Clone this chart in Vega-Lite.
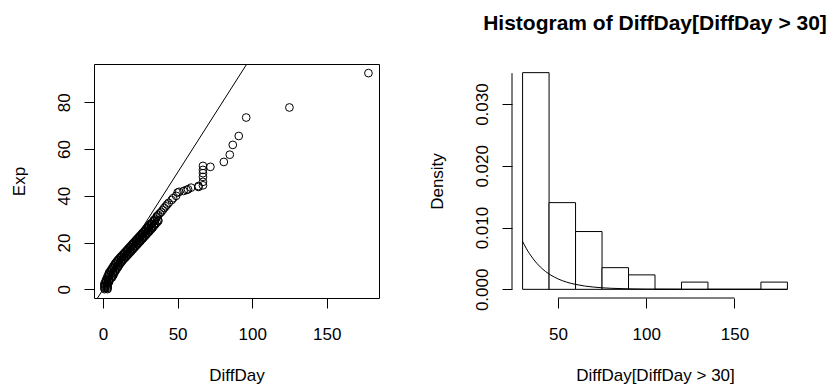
{
  "$schema": "https://vega.github.io/schema/vega-lite/v6.json",
  "background": "white",
  "padding": {"left": 10, "top": 13, "right": 0, "bottom": 0},
  "config": {
    "font": "Liberation Sans",
    "view": {"stroke": null},
    "axis": {
      "labelFont": "Liberation Sans", "titleFont": "Liberation Sans",
      "labelFontSize": 17, "titleFontSize": 17,
      "labelColor": "black", "titleColor": "black",
      "tickColor": "black", "tickSize": 10, "tickWidth": 1,
      "grid": false, "domain": false,
      "labelFontWeight": "normal", "titleFontWeight": "normal",
      "labelOverlap": false, "labelFlush": false
    }
  },
  "bounds": "flush",
  "spacing": 133,
  "hconcat": [
    {
      "width": 285,
      "height": 234,
      "view": {"stroke": "black", "strokeWidth": 1},
      "layer": [
        {
          "data": {"values": [
            {"DiffDay": 1, "Exp": 0.1}, {"DiffDay": 1, "Exp": 0.6}, {"DiffDay": 1, "Exp": 1.1}, {"DiffDay": 1, "Exp": 1.6}, {"DiffDay": 1, "Exp": 2.1}, {"DiffDay": 1, "Exp": 2.6},
            {"DiffDay": 2, "Exp": 3.1}, {"DiffDay": 2, "Exp": 3.6}, {"DiffDay": 2, "Exp": 4.1},
            {"DiffDay": 3, "Exp": 4.6}, {"DiffDay": 3, "Exp": 5.1}, {"DiffDay": 3, "Exp": 5.6},
            {"DiffDay": 4, "Exp": 6.1}, {"DiffDay": 4, "Exp": 6.6}, {"DiffDay": 4, "Exp": 7.1},
            {"DiffDay": 5, "Exp": 7.5}, {"DiffDay": 5, "Exp": 8.0},
            {"DiffDay": 6, "Exp": 8.5}, {"DiffDay": 6, "Exp": 9.0},
            {"DiffDay": 7, "Exp": 9.5}, {"DiffDay": 7, "Exp": 10.0},
            {"DiffDay": 8, "Exp": 10.5}, {"DiffDay": 8, "Exp": 11.0},
            {"DiffDay": 9, "Exp": 11.4}, {"DiffDay": 9, "Exp": 11.8},
            {"DiffDay": 10, "Exp": 12.2}, {"DiffDay": 10, "Exp": 12.6},
            {"DiffDay": 11, "Exp": 13.0}, {"DiffDay": 11, "Exp": 13.3},
            {"DiffDay": 12, "Exp": 13.6}, {"DiffDay": 12, "Exp": 14.0},
            {"DiffDay": 13, "Exp": 14.3}, {"DiffDay": 13, "Exp": 14.7},
            {"DiffDay": 14, "Exp": 15.0}, {"DiffDay": 14, "Exp": 15.4},
            {"DiffDay": 15, "Exp": 15.7}, {"DiffDay": 15, "Exp": 16.1},
            {"DiffDay": 16, "Exp": 16.4}, {"DiffDay": 16, "Exp": 16.8},
            {"DiffDay": 17, "Exp": 17.1}, {"DiffDay": 17, "Exp": 17.5},
            {"DiffDay": 18, "Exp": 17.8}, {"DiffDay": 18, "Exp": 18.2},
            {"DiffDay": 19, "Exp": 18.5}, {"DiffDay": 19, "Exp": 18.9},
            {"DiffDay": 20, "Exp": 19.2}, {"DiffDay": 20, "Exp": 19.6},
            {"DiffDay": 21, "Exp": 19.9}, {"DiffDay": 21, "Exp": 20.3},
            {"DiffDay": 22, "Exp": 20.6}, {"DiffDay": 22, "Exp": 21.0},
            {"DiffDay": 23, "Exp": 21.3}, {"DiffDay": 23, "Exp": 21.7},
            {"DiffDay": 24, "Exp": 22.0}, {"DiffDay": 24, "Exp": 22.4},
            {"DiffDay": 25, "Exp": 22.7}, {"DiffDay": 25, "Exp": 23.1},
            {"DiffDay": 26, "Exp": 23.4}, {"DiffDay": 26, "Exp": 23.8},
            {"DiffDay": 27, "Exp": 24.1}, {"DiffDay": 27, "Exp": 24.5},
            {"DiffDay": 28, "Exp": 24.8}, {"DiffDay": 28, "Exp": 25.2},
            {"DiffDay": 29, "Exp": 25.5}, {"DiffDay": 29, "Exp": 25.9},
            {"DiffDay": 30, "Exp": 26.2}, {"DiffDay": 30, "Exp": 26.6},
            {"DiffDay": 31, "Exp": 27.0}, {"DiffDay": 31, "Exp": 27.4},
            {"DiffDay": 32, "Exp": 27.8}, {"DiffDay": 32, "Exp": 28.1},
            {"DiffDay": 33, "Exp": 28.5},
            {"DiffDay": 34, "Exp": 29.2}, {"DiffDay": 34, "Exp": 29.6},
            {"DiffDay": 35, "Exp": 30.1},
            {"DiffDay": 36, "Exp": 30.8}, {"DiffDay": 36, "Exp": 31.2},
            {"DiffDay": 37, "Exp": 31.8},
            {"DiffDay": 38, "Exp": 32.5},
            {"DiffDay": 39, "Exp": 33.1},
            {"DiffDay": 40, "Exp": 33.9},
            {"DiffDay": 41, "Exp": 34.8},
            {"DiffDay": 42, "Exp": 35.5},
            {"DiffDay": 43, "Exp": 36.3},
            {"DiffDay": 44, "Exp": 37.0},
            {"DiffDay": 46, "Exp": 38.2},
            {"DiffDay": 47, "Exp": 39.0},
            {"DiffDay": 49, "Exp": 40.0},
            {"DiffDay": 50, "Exp": 41.4},
            {"DiffDay": 51, "Exp": 41.7},
            {"DiffDay": 54, "Exp": 42.1},
            {"DiffDay": 56, "Exp": 42.5},
            {"DiffDay": 57, "Exp": 42.8},
            {"DiffDay": 59, "Exp": 43.5},
            {"DiffDay": 64, "Exp": 43.8}, {"DiffDay": 64, "Exp": 44.2},
            {"DiffDay": 67, "Exp": 44.5}, {"DiffDay": 67, "Exp": 46.0}, {"DiffDay": 67, "Exp": 48.1}, {"DiffDay": 67, "Exp": 49.7}, {"DiffDay": 67, "Exp": 51.1}, {"DiffDay": 67, "Exp": 52.8},
            {"DiffDay": 72, "Exp": 52.4},
            {"DiffDay": 81, "Exp": 54.5},
            {"DiffDay": 85, "Exp": 57.6},
            {"DiffDay": 87, "Exp": 61.8},
            {"DiffDay": 91, "Exp": 65.6},
            {"DiffDay": 96, "Exp": 73.5},
            {"DiffDay": 125, "Exp": 77.8},
            {"DiffDay": 178, "Exp": 92.5},
            {"DiffDay": 3, "Exp": 0.1}, {"DiffDay": 3, "Exp": 0.6}, {"DiffDay": 3, "Exp": 1.1}, {"DiffDay": 3, "Exp": 1.6}, {"DiffDay": 3, "Exp": 2.1}, {"DiffDay": 3, "Exp": 2.6},
            {"DiffDay": 4, "Exp": 3.1}, {"DiffDay": 4, "Exp": 3.6}, {"DiffDay": 4, "Exp": 4.1}, {"DiffDay": 5, "Exp": 4.6},
            {"DiffDay": 6, "Exp": 5.1}, {"DiffDay": 6, "Exp": 5.6}, {"DiffDay": 7, "Exp": 6.1}, {"DiffDay": 7, "Exp": 6.6}, {"DiffDay": 7, "Exp": 7.1},
            {"DiffDay": 8, "Exp": 7.5}, {"DiffDay": 8, "Exp": 8.0}, {"DiffDay": 9, "Exp": 8.5}, {"DiffDay": 9, "Exp": 9.0},
            {"DiffDay": 10, "Exp": 9.5}, {"DiffDay": 10, "Exp": 10.0}, {"DiffDay": 11, "Exp": 10.5}, {"DiffDay": 11, "Exp": 11.0},
            {"DiffDay": 12, "Exp": 11.4}, {"DiffDay": 12, "Exp": 11.8}, {"DiffDay": 13, "Exp": 12.2}, {"DiffDay": 13, "Exp": 12.6},
            {"DiffDay": 14, "Exp": 13.0}, {"DiffDay": 14, "Exp": 13.3}, {"DiffDay": 15, "Exp": 13.6}, {"DiffDay": 15, "Exp": 14.0},
            {"DiffDay": 16, "Exp": 14.3}, {"DiffDay": 16, "Exp": 14.7}, {"DiffDay": 17, "Exp": 15.0}, {"DiffDay": 17, "Exp": 15.4},
            {"DiffDay": 18, "Exp": 15.7}, {"DiffDay": 18, "Exp": 16.1}, {"DiffDay": 19, "Exp": 16.4}, {"DiffDay": 19, "Exp": 16.8},
            {"DiffDay": 20, "Exp": 17.1}, {"DiffDay": 20, "Exp": 17.5}, {"DiffDay": 21, "Exp": 17.8}, {"DiffDay": 21, "Exp": 18.2},
            {"DiffDay": 22, "Exp": 18.5}, {"DiffDay": 22, "Exp": 18.9}, {"DiffDay": 23, "Exp": 19.2}, {"DiffDay": 23, "Exp": 19.6},
            {"DiffDay": 24, "Exp": 19.9}, {"DiffDay": 24, "Exp": 20.3}, {"DiffDay": 25, "Exp": 20.6}, {"DiffDay": 25, "Exp": 21.0},
            {"DiffDay": 26, "Exp": 21.3}, {"DiffDay": 26, "Exp": 21.7}, {"DiffDay": 27, "Exp": 22.0}, {"DiffDay": 27, "Exp": 22.4},
            {"DiffDay": 28, "Exp": 22.7}, {"DiffDay": 28, "Exp": 23.1}, {"DiffDay": 29, "Exp": 23.4}, {"DiffDay": 29, "Exp": 23.8},
            {"DiffDay": 30, "Exp": 24.1}, {"DiffDay": 30, "Exp": 24.5}, {"DiffDay": 31, "Exp": 24.8}, {"DiffDay": 31, "Exp": 25.2},
            {"DiffDay": 32, "Exp": 25.5}, {"DiffDay": 32, "Exp": 25.9}, {"DiffDay": 33, "Exp": 26.2}, {"DiffDay": 33, "Exp": 26.6},
            {"DiffDay": 34, "Exp": 27.0}, {"DiffDay": 34, "Exp": 27.4}, {"DiffDay": 35, "Exp": 27.8}, {"DiffDay": 35, "Exp": 28.1},
            {"DiffDay": 36, "Exp": 28.5}, {"DiffDay": 37, "Exp": 29.2}, {"DiffDay": 37, "Exp": 29.6}
          ]},
          "mark": {"type": "point", "shape": "circle", "filled": false, "stroke": "black", "strokeWidth": 1, "size": 60, "opacity": 1},
          "encoding": {
            "x": {"field": "DiffDay", "type": "quantitative",
              "scale": {"domain": [-6.08, 185.08], "nice": false, "zero": false},
              "axis": {"title": "DiffDay", "values": [0, 50, 100, 150], "labelPadding": 31, "labelBaseline": "alphabetic", "titleX": 142.5, "titleY": 82.5, "titleAlign": "center", "titleBaseline": "alphabetic"}},
            "y": {"field": "Exp", "type": "quantitative",
              "scale": {"domain": [-3.7, 96.4], "nice": false, "zero": false},
              "axis": {"title": "Exp", "values": [0, 20, 40, 60, 80], "labelAngle": 270, "labelAlign": "center", "labelBaseline": "alphabetic", "labelPadding": 14.5, "titleX": -69.5, "titleY": 117, "titleAngle": 270, "titleAlign": "center", "titleBaseline": "alphabetic"}}
          }
        },
        {
          "data": {"values": [{"DiffDay": -10, "Exp": -10}, {"DiffDay": 110, "Exp": 110}]},
          "mark": {"type": "line", "color": "black", "strokeWidth": 1, "clip": true},
          "encoding": {
            "x": {"field": "DiffDay", "type": "quantitative"},
            "y": {"field": "Exp", "type": "quantitative"}
          }
        }
      ]
    },
    {
      "width": 286,
      "height": 234,
      "title": {"text": "Histogram of DiffDay[DiffDay > 30]", "fontSize": 21, "fontWeight": "bold", "font": "Liberation Sans", "color": "black", "anchor": "middle", "baseline": "alphabetic", "offset": 13},
      "layer": [
        {
          "data": {"values": [
            {"DiffDay": 30, "DiffDayEnd": 45, "Density": 0.03509},
            {"DiffDay": 45, "DiffDayEnd": 60, "Density": 0.01404},
            {"DiffDay": 60, "DiffDayEnd": 75, "Density": 0.00936},
            {"DiffDay": 75, "DiffDayEnd": 90, "Density": 0.00351},
            {"DiffDay": 90, "DiffDayEnd": 105, "Density": 0.00234},
            {"DiffDay": 105, "DiffDayEnd": 120, "Density": 0},
            {"DiffDay": 120, "DiffDayEnd": 135, "Density": 0.00117},
            {"DiffDay": 135, "DiffDayEnd": 150, "Density": 0},
            {"DiffDay": 150, "DiffDayEnd": 165, "Density": 0},
            {"DiffDay": 165, "DiffDayEnd": 180, "Density": 0.00117}
          ]},
          "mark": {"type": "rect", "fill": "white", "stroke": "black", "strokeWidth": 1},
          "encoding": {
            "x": {"field": "DiffDay", "type": "quantitative",
              "scale": {"domain": [24, 186], "nice": false, "zero": false},
              "axis": {"title": "DiffDay[DiffDay > 30]", "values": [50, 100, 150], "labelPadding": 31, "labelBaseline": "alphabetic", "titleX": 143, "titleY": 82.5, "titleAlign": "center", "titleBaseline": "alphabetic"}},
            "x2": {"field": "DiffDayEnd"},
            "y": {"field": "Density", "type": "quantitative",
              "scale": {"domain": [-0.001404, 0.036491], "nice": false, "zero": false},
              "axis": {"title": "Density", "values": [0, 0.005, 0.01, 0.015, 0.02, 0.025, 0.03, 0.035],
                "labelExpr": "(round(datum.value*1000) % 10 == 0) ? format(datum.value, '.3f') : ''",
                "labelAngle": 270, "labelAlign": "center", "labelBaseline": "alphabetic", "labelPadding": 14.5, "titleX": -69.5, "titleY": 117, "titleAngle": 270, "titleAlign": "center", "titleBaseline": "alphabetic"}},
            "y2": {"datum": 0}
          }
        },
        {
          "data": {"values": [
            {"DiffDay": 30, "Density": 0.00777},
            {"DiffDay": 32, "Density": 0.00667},
            {"DiffDay": 34, "Density": 0.00574},
            {"DiffDay": 36, "Density": 0.00493},
            {"DiffDay": 38, "Density": 0.00423},
            {"DiffDay": 40, "Density": 0.00363},
            {"DiffDay": 43, "Density": 0.00289},
            {"DiffDay": 46, "Density": 0.0023},
            {"DiffDay": 50, "Density": 0.0017},
            {"DiffDay": 55, "Density": 0.00116},
            {"DiffDay": 60, "Density": 0.0008},
            {"DiffDay": 65, "Density": 0.00054},
            {"DiffDay": 70, "Density": 0.00037},
            {"DiffDay": 75, "Density": 0.00025},
            {"DiffDay": 80, "Density": 0.00017},
            {"DiffDay": 90, "Density": 0.00008},
            {"DiffDay": 100, "Density": 0.00004},
            {"DiffDay": 120, "Density": 0.00001},
            {"DiffDay": 150, "Density": 0.000001},
            {"DiffDay": 180, "Density": 0}
          ]},
          "mark": {"type": "line", "color": "black", "strokeWidth": 1, "interpolate": "monotone"},
          "encoding": {
            "x": {"field": "DiffDay", "type": "quantitative"},
            "y": {"field": "Density", "type": "quantitative"}
          }
        },
        {
          "data": {"values": [{"DiffDay": 50, "DiffDayEnd": 150, "Density": -0.001404}]},
          "mark": {"type": "rule", "color": "black", "strokeWidth": 1},
          "encoding": {
            "x": {"field": "DiffDay", "type": "quantitative"},
            "x2": {"field": "DiffDayEnd"},
            "y": {"field": "Density", "type": "quantitative"}
          }
        },
        {
          "data": {"values": [{"DiffDay": 24, "Density": 0, "DensityEnd": 0.035}]},
          "mark": {"type": "rule", "color": "black", "strokeWidth": 1},
          "encoding": {
            "x": {"field": "DiffDay", "type": "quantitative"},
            "y": {"field": "Density", "type": "quantitative"},
            "y2": {"field": "DensityEnd"}
          }
        }
      ]
    }
  ]
}
